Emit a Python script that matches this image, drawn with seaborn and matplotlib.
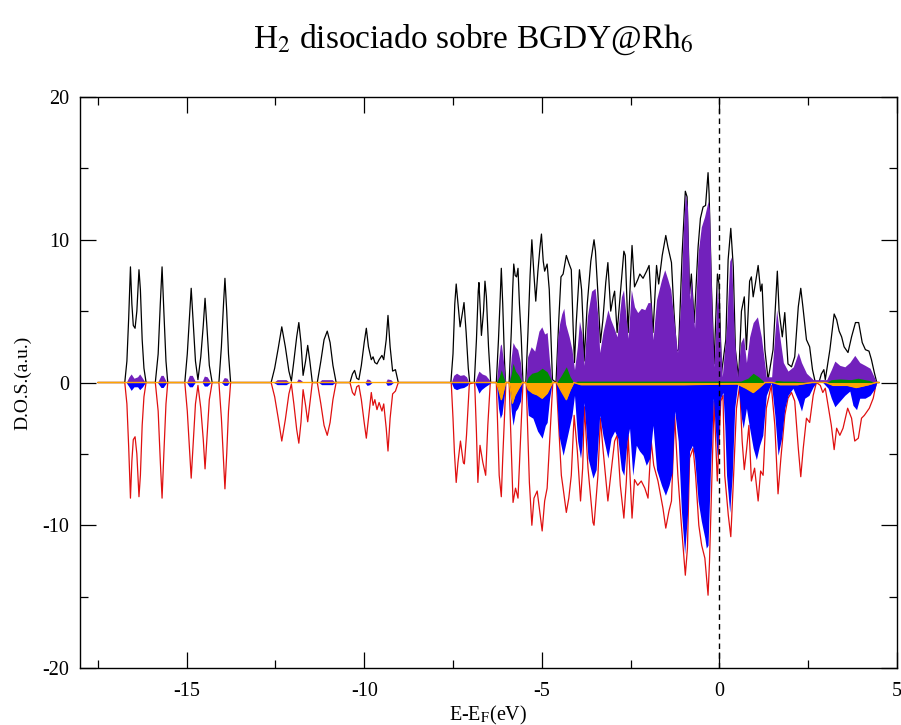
import matplotlib
matplotlib.use('Agg')
import matplotlib.pyplot as plt
import pandas as pd
import seaborn as sns
from matplotlib.ticker import MultipleLocator

# (E - E_F, DOS) vertices
total_up = [
    (-17.5, 0), (-16.74, 0), (-16.68, 1.5), (-16.63, 4.5), (-16.58, 8.1), (-16.54, 5.5), (-16.50, 4.0),
    (-16.45, 3.8), (-16.40, 5.0), (-16.34, 7.9), (-16.30, 6.5), (-16.25, 3.0), (-16.20, 1.0), (-16.14, 0),
    (-15.88, 0), (-15.80, 2.0), (-15.74, 5.5), (-15.69, 8.1), (-15.64, 5.0), (-15.58, 1.5), (-15.53, 0),
    (-15.05, 0), (-14.98, 2.0), (-14.92, 4.5), (-14.87, 6.6), (-14.82, 4.5), (-14.75, 1.5), (-14.68, 0.2),
    (-14.60, 1.8), (-14.53, 4.0), (-14.48, 5.9), (-14.43, 4.0), (-14.36, 1.2), (-14.28, 0),
    (-14.09, 0), (-14.02, 2.5), (-13.96, 5.5), (-13.92, 7.3), (-13.87, 5.0), (-13.82, 2.0), (-13.76, 0),
    (-12.62, 0), (-12.52, 1.0), (-12.42, 2.4), (-12.32, 3.9), (-12.22, 2.5), (-12.12, 0.8), (-12.05, 0.1),
    (-11.98, 1.5), (-11.90, 3.2), (-11.84, 4.2), (-11.78, 2.8), (-11.72, 0.5), (-11.65, 1.5), (-11.59, 2.6),
    (-11.53, 1.5), (-11.46, 0),
    (-11.32, 0), (-11.22, 1.5), (-11.13, 3.0), (-11.04, 3.6), (-10.96, 2.8), (-10.88, 1.2), (-10.79, 0),
    (-10.40, 0), (-10.33, 0.6), (-10.27, 0.85), (-10.21, 0.3), (-10.15, 0.2), (-10.08, 1.2), (-10.00, 2.8),
    (-9.94, 3.8), (-9.88, 2.5), (-9.80, 1.6), (-9.75, 1.8), (-9.70, 1.4), (-9.64, 1.3), (-9.58, 1.6),
    (-9.50, 1.9), (-9.45, 1.6), (-9.38, 3.0), (-9.33, 4.7), (-9.27, 2.5), (-9.20, 0.8), (-9.12, 0.9), (-9.04, 0),
    (-7.56, 0), (-7.50, 2.0), (-7.45, 5.5), (-7.41, 6.9), (-7.36, 5.5), (-7.30, 3.9), (-7.24, 4.8),
    (-7.19, 5.6), (-7.13, 3.5), (-7.07, 1.0), (-7.03, 0),
    (-6.90, 0), (-6.84, 3.0), (-6.79, 6.4), (-6.77, 7.0), (-6.73, 5.0), (-6.70, 3.3), (-6.64, 5.0),
    (-6.60, 7.1), (-6.56, 6.0), (-6.50, 2.5), (-6.44, 0),
    (-6.28, 0), (-6.22, 3.0), (-6.17, 6.0), (-6.14, 8.0), (-6.10, 5.5), (-6.05, 1.5), (-6.02, 0),
    (-5.92, 0), (-5.86, 3.5), (-5.82, 6.5), (-5.79, 8.3), (-5.75, 7.5), (-5.71, 7.4), (-5.67, 8.0),
    (-5.63, 5.5), (-5.58, 3.2), (-5.53, 0),
    (-5.45, 0), (-5.39, 3.5), (-5.33, 7.5), (-5.28, 10.0), (-5.22, 7.5), (-5.17, 5.7), (-5.11, 7.8),
    (-5.05, 9.5), (-5.01, 10.4), (-4.96, 8.5), (-4.92, 7.8), (-4.85, 8.3), (-4.79, 6.5), (-4.74, 3.0),
    (-4.70, 0.2), (-4.60, 0), (-4.52, 4.5), (-4.46, 7.4), (-4.40, 7.6), (-4.31, 8.9), (-4.23, 8.3),
    (-4.17, 7.9), (-4.12, 4.0), (-4.08, 1.4), (-4.03, 4.2), (-3.94, 7.9), (-3.88, 6.5), (-3.84, 4.2),
    (-3.81, 1.5), (-3.72, 5.5), (-3.62, 8.5), (-3.53, 10.0), (-3.49, 9.2), (-3.42, 6.2), (-3.35, 2.8),
    (-3.28, 4.4), (-3.20, 7.0), (-3.14, 8.4), (-3.06, 5.0), (-2.99, 6.0), (-2.95, 6.4), (-2.88, 3.5),
    (-2.79, 6.2), (-2.69, 9.2), (-2.65, 8.9), (-2.57, 3.5), (-2.50, 7.5), (-2.46, 9.6), (-2.39, 6.7),
    (-2.30, 7.2), (-2.24, 7.6), (-2.15, 7.3), (-2.05, 7.8), (-1.98, 8.2), (-1.87, 3.5), (-1.77, 8.2),
    (-1.71, 6.9), (-1.61, 8.9), (-1.51, 10.3), (-1.45, 9.5), (-1.35, 8.4), (-1.28, 5.0), (-1.21, 2.2),
    (-1.15, 2.3), (-1.05, 9.0), (-0.96, 13.4), (-0.91, 13.0), (-0.84, 6.2), (-0.79, 7.6), (-0.71, 4.2),
    (-0.60, 9.5), (-0.535, 11.5), (-0.46, 12.3), (-0.39, 12.4), (-0.32, 14.7), (-0.29, 13.2),
    (-0.225, 6.7), (-0.15, 1.3), (-0.056, 7.6), (-0.01, 6.9), (0.056, 0.6), (0.18, 3.0), (0.245, 8.6),
    (0.32, 10.8), (0.39, 8.1), (0.45, 2.3), (0.54, 0.3), (0.62, 5.0), (0.70, 6.0), (0.76, 2.3),
    (0.85, 7.1), (0.90, 7.4), (0.95, 6.0), (1.01, 6.9), (1.09, 8.2), (1.16, 6.4), (1.20, 6.9),
    (1.28, 2.3), (1.37, 0.2), (1.51, 2.3), (1.63, 7.8), (1.68, 5.0), (1.77, 3.2), (1.84, 4.9),
    (1.93, 1.3), (2.03, 1.1), (2.12, 1.8), (2.22, 5.3), (2.29, 6.6), (2.35, 5.3), (2.45, 3.0),
    (2.54, 2.5), (2.62, 0.9), (2.70, 0), (2.80, 0), (2.87, 0.6), (2.94, 0.9), (2.98, 0.2), (3.11, 2.3),
    (3.23, 4.8), (3.30, 4.4), (3.37, 3.6), (3.44, 3.2), (3.51, 2.5), (3.62, 2.1), (3.72, 3.2),
    (3.83, 4.2), (3.92, 4.2), (4.02, 2.8), (4.11, 2.3), (4.21, 2.2), (4.28, 1.6), (4.36, 0.7),
    (4.43, 0), (4.5, 0),
]

total_down = [
    (-17.5, 0), (-16.74, 0), (-16.68, -1.5), (-16.63, -4.5), (-16.58, -8.1), (-16.54, -5.5), (-16.50, -4.0),
    (-16.45, -3.8), (-16.40, -5.0), (-16.34, -8.0), (-16.30, -6.5), (-16.25, -3.0), (-16.20, -1.0), (-16.14, 0),
    (-15.88, 0), (-15.80, -2.0), (-15.74, -5.5), (-15.69, -8.1), (-15.64, -5.0), (-15.58, -1.5), (-15.53, 0),
    (-15.05, 0), (-14.98, -2.0), (-14.92, -4.5), (-14.87, -6.7), (-14.82, -4.5), (-14.75, -1.5), (-14.68, -0.2),
    (-14.60, -1.8), (-14.53, -4.0), (-14.48, -6.05), (-14.43, -4.0), (-14.36, -1.2), (-14.28, 0),
    (-14.09, 0), (-14.02, -2.5), (-13.96, -5.5), (-13.92, -7.45), (-13.87, -5.0), (-13.82, -2.0), (-13.76, 0),
    (-12.62, 0), (-12.52, -1.0), (-12.42, -2.5), (-12.32, -4.1), (-12.22, -2.6), (-12.12, -0.8), (-12.05, -0.1),
    (-11.98, -1.5), (-11.90, -3.3), (-11.84, -4.25), (-11.78, -2.8), (-11.72, -0.5), (-11.65, -1.6),
    (-11.59, -2.75), (-11.53, -1.5), (-11.46, 0),
    (-11.32, 0), (-11.22, -1.5), (-11.13, -3.0), (-11.04, -3.7), (-10.96, -2.8), (-10.88, -1.2), (-10.79, 0),
    (-10.40, 0), (-10.33, -0.7), (-10.27, -0.9), (-10.21, -0.3), (-10.15, -0.2), (-10.08, -1.2), (-10.00, -2.8),
    (-9.94, -3.9), (-9.88, -2.5), (-9.80, -0.7), (-9.75, -1.6), (-9.70, -1.2), (-9.64, -1.9), (-9.58, -1.4),
    (-9.50, -2.0), (-9.45, -1.5), (-9.38, -3.2), (-9.33, -4.8), (-9.27, -2.5), (-9.20, -0.8), (-9.12, -0.6),
    (-9.04, 0),
    (-7.55, 0), (-7.50, -2.5), (-7.46, -4.9), (-7.41, -7.0), (-7.36, -5.6), (-7.29, -4.1), (-7.21, -5.6),
    (-7.18, -5.7), (-7.12, -3.7), (-7.04, -0.1),
    (-6.89, 0), (-6.84, -3.5), (-6.80, -7.0), (-6.74, -4.4), (-6.66, -5.6), (-6.58, -6.5), (-6.52, -3.0),
    (-6.45, 0),
    (-6.28, 0), (-6.20, -6.5), (-6.14, -8.0), (-6.10, -5.3), (-6.01, 0),
    (-5.92, 0), (-5.86, -4.5), (-5.81, -8.4), (-5.74, -7.4), (-5.67, -8.1), (-5.60, -4.1), (-5.53, 0),
    (-5.44, 0), (-5.35, -7.0), (-5.28, -10.0), (-5.22, -8.1), (-5.13, -7.6), (-4.99, -10.4), (-4.92, -8.3),
    (-4.85, -7.4), (-4.78, -4.1), (-4.69, 0),
    (-4.59, 0), (-4.45, -6.5), (-4.40, -7.4), (-4.31, -9.1), (-4.24, -8.1), (-4.17, -6.5), (-4.09, -2.3),
    (-4.00, -4.8), (-3.91, -8.3), (-3.85, -6.0), (-3.80, -1.7), (-3.70, -6.0), (-3.56, -9.8), (-3.53, -10.0),
    (-3.42, -6.5), (-3.35, -2.5), (-3.28, -4.6), (-3.14, -8.3), (-3.06, -6.5), (-2.95, -4.1), (-2.88, -3.7),
    (-2.79, -7.2), (-2.69, -9.5), (-2.62, -6.9), (-2.57, -3.7), (-2.46, -9.5), (-2.39, -6.8), (-2.30, -7.2),
    (-2.20, -6.9), (-2.10, -7.4), (-2.01, -8.1), (-1.92, -4.1), (-1.85, -5.8), (-1.73, -6.9), (-1.59, -8.8),
    (-1.51, -10.2), (-1.42, -9.0), (-1.35, -8.3), (-1.26, -2.3), (-1.17, -6.5), (-1.07, -10.0),
    (-0.96, -13.5), (-0.90, -11.6), (-0.84, -5.3), (-0.74, -4.6), (-0.67, -6.5), (-0.58, -10.0),
    (-0.50, -11.4), (-0.41, -12.3), (-0.32, -14.9), (-0.28, -12.6), (-0.21, -6.5), (-0.15, -1.3),
    (-0.06, -6.9), (0.04, -1.3), (0.10, -0.9), (0.15, -6.5), (0.25, -9.3), (0.32, -10.8), (0.38, -7.6),
    (0.48, -1.8), (0.57, -0.2), (0.64, -4.1), (0.70, -6.1), (0.76, -4.8), (0.83, -3.0), (0.90, -6.9),
    (0.99, -6.0), (1.09, -8.3), (1.16, -6.2), (1.23, -6.5), (1.32, -1.8), (1.46, -0.2), (1.56, -3.0),
    (1.65, -7.8), (1.73, -5.3), (1.84, -2.3), (1.93, -1.1), (2.03, -0.7), (2.12, -1.3), (2.22, -4.6),
    (2.29, -6.6), (2.36, -4.6), (2.45, -2.5), (2.54, -2.8), (2.64, -0.9), (2.73, 0), (2.84, -0.2),
    (2.91, -0.7), (2.98, -0.4), (3.15, -3.0), (3.23, -4.7), (3.30, -3.2), (3.39, -3.7), (3.48, -3.2),
    (3.61, -1.8), (3.72, -2.5), (3.81, -4.1), (3.91, -3.9), (4.00, -2.5), (4.08, -2.3), (4.22, -1.8),
    (4.33, -1.1), (4.42, 0), (4.5, 0),
]

rh_up = [
    (-17.5, 0), (-16.70, 0), (-16.62, 0.4), (-16.56, 0.6), (-16.48, 0.3), (-16.38, 0.4), (-16.32, 0.6),
    (-16.24, 0.3), (-16.16, 0),
    (-15.82, 0), (-15.72, 0.5), (-15.66, 0.5), (-15.56, 0),
    (-15.00, 0), (-14.92, 0.5), (-14.84, 0.5), (-14.76, 0.1), (-14.56, 0.1), (-14.50, 0.45), (-14.42, 0.4),
    (-14.32, 0),
    (-14.02, 0), (-13.94, 0.35), (-13.86, 0.3), (-13.80, 0),
    (-12.55, 0), (-12.45, 0.2), (-12.20, 0.2), (-12.10, 0), (-11.92, 0), (-11.86, 0.25), (-11.80, 0.2),
    (-11.70, 0), (-11.28, 0), (-11.20, 0.2), (-10.90, 0.2), (-10.82, 0),
    (-9.98, 0), (-9.92, 0.25), (-9.85, 0.2), (-9.78, 0), (-9.40, 0), (-9.35, 0.25), (-9.25, 0.2), (-9.18, 0),
    (-7.55, 0), (-7.48, 0.5), (-7.40, 0.65), (-7.30, 0.5), (-7.20, 0.55), (-7.12, 0.4), (-7.05, 0),
    (-6.89, 0), (-6.82, 0.5), (-6.77, 0.8), (-6.68, 0.6), (-6.58, 0.5), (-6.48, 0.2), (-6.44, 0),
    (-6.28, 0), (-6.22, 1.5), (-6.17, 2.6), (-6.14, 2.7), (-6.08, 1.5), (-6.02, 0),
    (-5.92, 0), (-5.86, 1.8), (-5.81, 2.8), (-5.75, 2.5), (-5.68, 2.3), (-5.60, 1.4), (-5.55, 0),
    (-5.45, 0), (-5.40, 1.8), (-5.30, 2.5), (-5.20, 2.2), (-5.08, 3.6), (-5.00, 3.9), (-4.92, 3.4),
    (-4.85, 3.5), (-4.78, 1.4), (-4.71, 0),
    (-4.60, 0), (-4.56, 3.0), (-4.50, 4.1), (-4.44, 4.8), (-4.38, 5.2), (-4.33, 4.1), (-4.23, 3.2),
    (-4.15, 2.3), (-4.08, 0.9), (-4.00, 2.5), (-3.94, 4.3), (-3.87, 3.4), (-3.81, 1.2), (-3.72, 4.6),
    (-3.60, 6.4), (-3.50, 6.6), (-3.42, 4.6), (-3.37, 2.1), (-3.28, 3.5), (-3.14, 5.1), (-3.06, 4.4),
    (-2.98, 3.9), (-2.88, 3.2), (-2.76, 6.0), (-2.70, 6.5), (-2.57, 3.1), (-2.48, 6.5), (-2.39, 5.3),
    (-2.30, 4.9), (-2.20, 5.2), (-2.10, 5.1), (-2.01, 5.6), (-1.93, 5.6), (-1.87, 3.0), (-1.77, 5.8),
    (-1.63, 7.2), (-1.54, 7.9), (-1.45, 7.2), (-1.37, 6.5), (-1.28, 4.4), (-1.18, 2.1), (-1.09, 5.6),
    (-1.02, 10.5), (-0.96, 13.2), (-0.90, 12.3), (-0.84, 5.8), (-0.79, 7.2), (-0.70, 3.8), (-0.60, 9.1),
    (-0.51, 10.9), (-0.42, 11.6), (-0.32, 12.7), (-0.28, 12.1), (-0.21, 5.0), (-0.15, 1.1), (-0.06, 6.7),
    (0.00, 4.4), (0.08, 0.4), (0.20, 3.9), (0.29, 8.5), (0.34, 8.8), (0.42, 3.2), (0.51, 0.4), (0.60, 2.8),
    (0.68, 3.2), (0.76, 1.4), (0.85, 3.2), (0.95, 4.2), (1.07, 4.6), (1.18, 3.2), (1.32, 0.4), (1.47, 0.4),
    (1.61, 5.1), (1.70, 3.2), (1.80, 1.4), (1.93, 0.8), (2.08, 1.1), (2.22, 2.1), (2.31, 1.4), (2.45, 0.65),
    (2.64, 0.2), (2.88, 0.2), (3.02, 0.2), (3.15, 0.9), (3.25, 1.5), (3.39, 1.2), (3.53, 1.1), (3.67, 1.4),
    (3.81, 1.9), (3.95, 1.4), (4.10, 1.2), (4.24, 1.0), (4.39, 0.2), (4.45, 0), (4.5, 0),
]

rh_down = [
    (-17.5, 0), (-16.70, 0), (-16.62, -0.3), (-16.56, -0.55), (-16.48, -0.3), (-16.38, -0.3), (-16.32, -0.5),
    (-16.24, -0.3), (-16.16, 0),
    (-15.82, 0), (-15.72, -0.35), (-15.66, -0.35), (-15.56, 0),
    (-15.00, 0), (-14.92, -0.3), (-14.84, -0.3), (-14.76, 0), (-14.56, 0), (-14.50, -0.25), (-14.42, -0.25),
    (-14.32, 0),
    (-14.02, 0), (-13.94, -0.2), (-13.86, -0.2), (-13.80, 0),
    (-12.55, 0), (-12.45, -0.15), (-12.20, -0.15), (-12.10, 0), (-11.28, 0), (-11.20, -0.15),
    (-10.90, -0.15), (-10.82, 0), (-9.98, 0), (-9.92, -0.2), (-9.85, -0.15), (-9.78, 0),
    (-9.40, 0), (-9.35, -0.2), (-9.25, -0.15), (-9.18, 0),
    (-7.55, 0), (-7.48, -0.4), (-7.40, -0.5), (-7.30, -0.4), (-7.20, -0.35), (-7.10, -0.2), (-7.05, 0),
    (-6.89, 0), (-6.82, -0.4), (-6.77, -0.75), (-6.70, -0.5), (-6.60, -0.3), (-6.48, -0.1), (-6.44, 0),
    (-6.28, 0), (-6.22, -1.8), (-6.17, -2.5), (-6.12, -2.2), (-6.06, -1.0), (-6.02, 0),
    (-5.92, 0), (-5.86, -2.0), (-5.81, -3.0), (-5.74, -2.0), (-5.68, -1.8), (-5.60, -1.3), (-5.55, 0),
    (-5.45, 0), (-5.38, -2.3), (-5.25, -2.5), (-5.12, -3.4), (-4.99, -3.9), (-4.90, -3.0), (-4.85, -2.8),
    (-4.78, -1.1), (-4.71, 0),
    (-4.60, 0), (-4.52, -3.7), (-4.40, -5.1), (-4.31, -4.1), (-4.23, -3.2), (-4.15, -2.3), (-4.08, -0.9),
    (-3.99, -4.1), (-3.91, -5.3), (-3.87, -4.4), (-3.81, -1.4), (-3.70, -5.3), (-3.56, -6.7), (-3.47, -6.1),
    (-3.37, -2.3), (-3.28, -3.7), (-3.14, -5.3), (-3.05, -3.9), (-2.95, -3.4), (-2.86, -3.9), (-2.76, -6.1),
    (-2.69, -6.5), (-2.60, -4.1), (-2.53, -3.2), (-2.44, -6.5), (-2.34, -4.4), (-2.25, -4.8), (-2.15, -5.1),
    (-2.06, -5.8), (-1.96, -5.3), (-1.87, -3.0), (-1.77, -6.1), (-1.63, -7.2), (-1.52, -7.9), (-1.42, -7.2),
    (-1.33, -6.3), (-1.26, -2.0), (-1.16, -4.1), (-1.07, -9.0), (-0.98, -12.0), (-0.90, -9.3),
    (-0.84, -4.8), (-0.76, -4.4), (-0.70, -5.2), (-0.60, -8.3), (-0.51, -9.7), (-0.41, -10.9),
    (-0.37, -11.6), (-0.32, -11.4), (-0.25, -6.0), (-0.17, -1.1), (-0.06, -5.3), (0.03, -1.1),
    (0.10, -0.7), (0.15, -3.0), (0.20, -6.5), (0.29, -9.1), (0.36, -6.5), (0.43, -1.8), (0.52, 0),
    (0.62, -2.5), (0.67, -3.2), (0.76, -1.8), (0.85, -3.2), (0.95, -4.6), (1.04, -5.4), (1.13, -4.4),
    (1.22, -3.7), (1.32, -0.9), (1.46, 0), (1.56, -2.3), (1.65, -5.1), (1.75, -3.9), (1.84, -1.8),
    (1.93, -0.9), (2.07, -0.4), (2.22, -1.3), (2.31, -2.0), (2.40, -1.1), (2.52, -0.9), (2.64, -0.3),
    (2.73, 0), (2.91, 0), (3.06, -0.4), (3.15, -1.1), (3.25, -1.7), (3.39, -1.3), (3.53, -0.9),
    (3.67, -0.6), (3.76, -1.6), (3.86, -1.9), (3.95, -1.1), (4.10, -1.1), (4.24, -0.9), (4.38, -0.4),
    (4.43, 0), (4.5, 0),
]

h_up = [
    (-17.5, 0), (-6.28, 0), (-6.20, 0.4), (-6.14, 0.9), (-6.08, 0.4), (-6.02, 0), (-5.92, 0), (-5.86, 0.6),
    (-5.81, 1.35), (-5.74, 0.8), (-5.65, 0.5), (-5.55, 0), (-5.45, 0), (-5.38, 0.4), (-5.28, 0.65),
    (-5.13, 0.75), (-4.99, 1.0), (-4.85, 0.75), (-4.74, 0.2), (-4.70, 0), (-4.58, 0), (-4.45, 0.5),
    (-4.31, 1.1), (-4.20, 0.4), (-4.10, 0), (-4.00, 0.1), (0.60, 0.1), (0.80, 0.3), (0.95, 0.65),
    (1.10, 0.4), (1.28, 0), (1.50, 0), (1.60, 0.15), (1.80, 0.1), (2.10, 0.1), (2.50, 0), (3.00, 0),
    (3.15, 0.2), (3.40, 0.25), (3.70, 0.2), (3.90, 0.3), (4.20, 0.15), (4.40, 0), (4.5, 0),
]

h_down = [
    (-17.5, 0), (-6.28, 0), (-6.20, -0.6), (-6.14, -1.2), (-6.08, -0.6), (-6.02, 0), (-5.92, 0),
    (-5.87, -0.7), (-5.83, -1.45), (-5.76, -0.9), (-5.65, -0.4), (-5.55, 0), (-5.45, 0), (-5.38, -0.5),
    (-5.25, -0.75), (-5.13, -0.86), (-4.99, -1.1), (-4.85, -0.75), (-4.74, -0.2), (-4.70, 0), (-4.58, 0),
    (-4.45, -0.6), (-4.31, -1.2), (-4.20, -0.5), (-4.10, 0), (-3.90, -0.15), (-2.50, -0.15), (-1.00, -0.15),
    (0.50, -0.1), (0.75, -0.4), (0.95, -0.7), (1.10, -0.4), (1.28, 0), (1.50, 0), (1.70, -0.15),
    (2.20, -0.15), (2.60, 0), (3.00, 0), (3.20, -0.2), (3.60, -0.2), (3.85, -0.35), (4.20, -0.15),
    (4.40, 0), (4.5, 0),
]

title = r'H$_2$ disociado sobre BGDY@Rh$_6$'

sns.set_style('ticks')
plt.rcParams['font.family'] = ['Liberation Serif', 'DejaVu Serif']
plt.rcParams['mathtext.fontset'] = 'stix'
plt.rcParams['axes.unicode_minus'] = False
plt.rcParams['text.color'] = 'black'
plt.rcParams['axes.labelcolor'] = 'black'
plt.rcParams['xtick.color'] = 'black'
plt.rcParams['ytick.color'] = 'black'


def frame(points):
    return pd.DataFrame(points, columns=['E', 'DOS'])


fig, ax = plt.subplots(figsize=(9.01, 7.25), dpi=100)
fig.subplots_adjust(left=0.0888, right=0.9956, bottom=0.0786, top=0.8662)

up, down = frame(total_up), frame(total_down)
sns.lineplot(data=up, x='E', y='DOS', color='black', lw=0.9, estimator=None, sort=False, ax=ax, zorder=2)
sns.lineplot(data=down, x='E', y='DOS', color='#e01010', lw=0.9, estimator=None, sort=False, ax=ax, zorder=2)

for pts, col in [(rh_up, '#7221bc'), (rh_down, '#0000ff'), (h_up, '#008b00'), (h_down, '#ffa500')]:
    d = frame(pts)
    ax.fill_between(d['E'], d['DOS'], 0, color=col, lw=0, zorder=3)

sns.lineplot(data=frame(h_down), x='E', y='DOS', color='#ffa500', lw=1.0, estimator=None, sort=False,
             ax=ax, zorder=4)

ax.axvline(0, color='black', ls=(0, (4, 3)), lw=1.0, zorder=5)

ax.set_xlim(-18, 5)
ax.set_ylim(-20, 20)
ax.xaxis.set_major_locator(MultipleLocator(5))
ax.xaxis.set_minor_locator(MultipleLocator(2.5))
ax.yaxis.set_major_locator(MultipleLocator(10))
ax.yaxis.set_minor_locator(MultipleLocator(5))
ax.tick_params(which='both', direction='in', top=True, right=True, width=0.9, labelsize=14.5)
ax.tick_params(which='major', length=11.5)
ax.tick_params(which='minor', length=6)
ax.tick_params(axis='x', pad=10)
ax.tick_params(axis='y', pad=8)
for s in ax.spines.values():
    s.set_linewidth(1.0)
    s.set_color('black')

ax.set_xlabel(r'E-E$_\mathrm{F}$(eV)', fontsize=14.5, labelpad=2)
ax.set_ylabel('D.O.S.(a.u.)', fontsize=14, labelpad=8)
fig.text(0.525, 0.945, title, ha='center', va='center', fontsize=24)

fig.savefig('out.png', dpi=100)
